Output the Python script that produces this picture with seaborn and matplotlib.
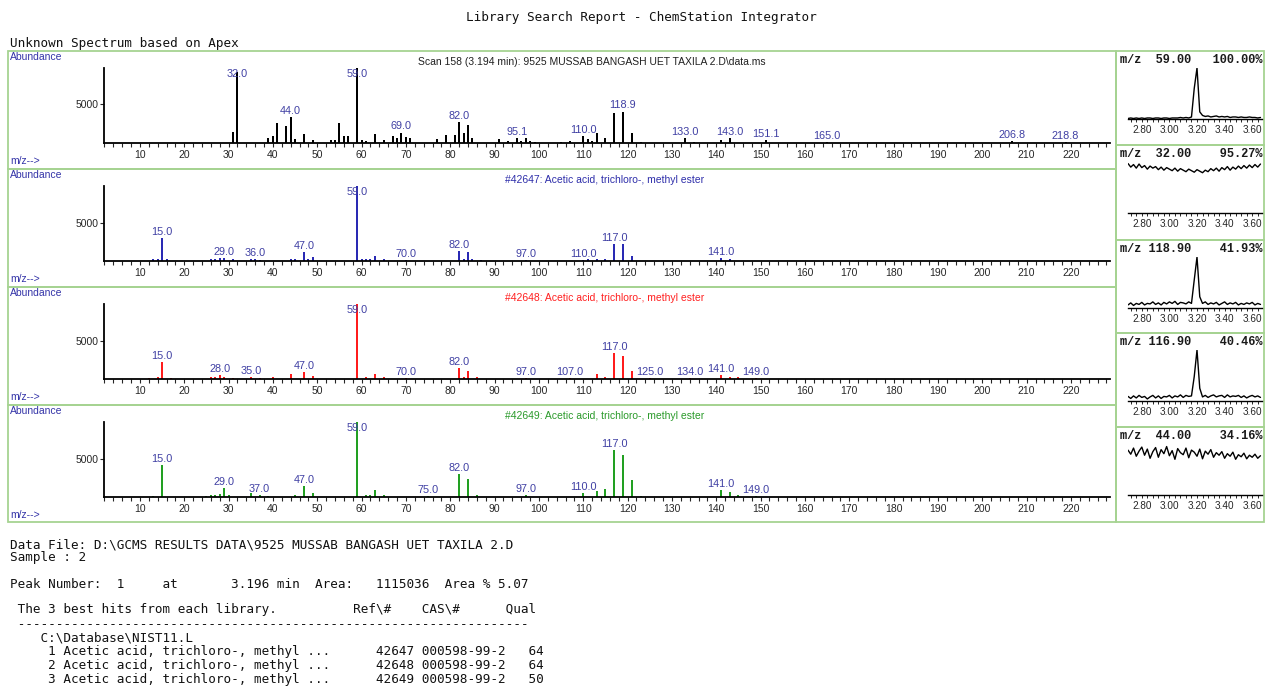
import numpy as np
import pandas as pd
import matplotlib
matplotlib.use("Agg")
import matplotlib.pyplot as plt
from matplotlib.patches import Rectangle
from matplotlib.ticker import MultipleLocator, FixedLocator
import seaborn as sns

# ---------------- data ----------------
scan_mz = [31, 32, 39, 40, 41, 43, 44, 45, 47, 49, 53, 54, 55, 56, 57, 59, 60, 61, 63, 65,
           67, 68, 69, 70, 71, 77, 79, 81, 82, 83, 84, 85, 91, 93, 95.1, 96, 97, 98, 99, 105,
           107, 110, 111, 112, 113, 115, 116.9, 118.9, 121, 123, 133, 135, 141, 143, 151.1, 165,
           206.8, 218.8]
scan_ab = [1440, 9146, 670, 860, 2590, 2210, 3280, 480, 1150, 380, 380, 380, 2500, 960, 960, 9600,
           380, 290, 1150, 380, 960, 670, 1340, 770, 580, 480, 1060, 1060, 2690, 1340, 2300, 670,
           480, 290, 670, 290, 580, 290, 190, 190, 290, 860, 480, 290, 1340, 670, 3884, 4025, 1340,
           190, 580, 190, 380, 580, 380, 100, 290, 100]
scan_labels = [32, 44, 59, 69, 82, 95.1, 110, 118.9, 133, 143, 151.1, 165, 206.8, 218.8]

hit1_mz = [13, 14, 15, 16, 26, 27, 28, 29, 31, 35, 36, 37, 44, 45, 47, 48, 49, 59, 60, 61,
           62, 63, 65, 70, 82, 83, 84, 85, 87, 97, 110, 111, 113, 115, 117, 119, 121, 141, 143]
hit1_ab = [200, 300, 3000, 200, 200, 200, 400, 400, 200, 200, 200, 100, 300, 200, 1200, 200, 500,
           9999, 200, 200, 200, 600, 300, 100, 1300, 200, 1200, 200, 100, 100, 100, 200, 300, 200,
           2200, 2200, 600, 400, 300]
hit1_labels = [15, 29, 36, 47, 59, 70, 82, 97, 110, 117, 141]

hit2_mz = [12, 14, 15, 17, 26, 27, 28, 29, 31, 35, 37, 40, 44, 47, 49, 59, 61, 63, 65, 70,
           82, 83, 84, 86, 97, 107, 113, 115, 117, 119, 121, 125, 134, 141, 143, 145, 149]
hit2_ab = [100, 200, 2200, 100, 200, 200, 500, 300, 100, 200, 100, 200, 700, 900, 400, 9999, 200,
           600, 200, 100, 1500, 300, 1000, 200, 100, 100, 600, 200, 3400, 3000, 1100, 100, 100,
           500, 300, 200, 100]
hit2_labels = [15, 28, 35, 47, 59, 70, 82, 97, 107, 117, 125, 134, 141, 149]

hit3_mz = [13, 15, 25, 26, 27, 28, 29, 30, 35, 37, 39, 45, 47, 49, 59, 61, 62, 63, 65, 75,
           82, 84, 86, 97, 110, 113, 115, 117, 119, 121, 123, 141, 143, 145, 149]
hit3_ab = [100, 4200, 100, 200, 300, 400, 1200, 300, 500, 200, 100, 200, 1500, 500, 9999, 200, 200,
           900, 300, 100, 3100, 2400, 300, 200, 500, 800, 1000, 6200, 5600, 2200, 100, 900, 700,
           200, 100]
hit3_labels = [15, 29, 37, 47, 59, 75, 82, 97, 110, 117, 141, 149]

spec_titles = ["Scan 158 (3.194 min): 9525 MUSSAB BANGASH UET TAXILA 2.D\\data.ms",
               "#42647: Acetic acid, trichloro-, methyl ester",
               "#42648: Acetic acid, trichloro-, methyl ester",
               "#42649: Acetic acid, trichloro-, methyl ester"]

eic_time = [2.70, 2.72, 2.74, 2.76, 2.78, 2.80, 2.82, 2.84, 2.86, 2.88, 2.90, 2.92, 2.94, 2.96,
            2.98, 3.00, 3.02, 3.04, 3.06, 3.08, 3.10, 3.12, 3.14, 3.16, 3.18, 3.20, 3.22, 3.24,
            3.26, 3.28, 3.30, 3.32, 3.34, 3.36, 3.38, 3.40, 3.42, 3.44, 3.46, 3.48, 3.50, 3.52,
            3.54, 3.56, 3.58, 3.60, 3.62, 3.64, 3.66]
eic_59 = [1, 2, 1, 2, 1, 2, 1, 2, 2, 1, 2, 2, 1, 2, 2, 1, 2, 2, 2, 3, 2, 3, 2, 4, 60, 100, 14, 7,
          5, 6, 4, 5, 6, 4, 5, 4, 5, 3, 4, 4, 3, 4, 3, 3, 4, 3, 3, 2, 3]
eic_32 = [97, 90, 95, 88, 96, 89, 93, 86, 92, 88, 91, 85, 90, 84, 89, 86, 83, 88, 82, 87, 84, 81,
          86, 83, 80, 85, 82, 79, 84, 81, 87, 83, 88, 82, 89, 85, 91, 84, 90, 86, 92, 87, 93, 88,
          94, 89, 95, 90, 96]
eic_1189 = [6, 10, 5, 9, 7, 11, 6, 9, 8, 12, 7, 10, 6, 11, 8, 12, 9, 13, 7, 11, 10, 8, 12, 9, 55,
            100, 22, 9, 12, 7, 10, 8, 11, 6, 9, 12, 7, 10, 8, 11, 6, 9, 7, 10, 8, 11, 6, 9, 7]
eic_1169 = [9, 5, 10, 6, 11, 7, 9, 4, 8, 11, 6, 10, 5, 9, 8, 11, 6, 10, 8, 12, 7, 11, 9, 10, 48,
            100, 25, 8, 11, 7, 10, 12, 8, 10, 11, 7, 12, 8, 10, 9, 11, 7, 10, 6, 9, 11, 8, 10, 7]
eic_44 = [88, 80, 92, 76, 86, 94, 78, 90, 72, 85, 93, 74, 89, 81, 95, 77, 87, 70, 91, 83, 79, 92,
          73, 88, 84, 76, 90, 71, 86, 80, 89, 74, 83, 78, 85, 72, 81, 76, 84, 70, 79, 75, 82, 71,
          78, 74, 80, 72, 77]
eic_headers = ["m/z  59.00   100.00%", "m/z  32.00    95.27%", "m/z 118.90    41.93%",
               "m/z 116.90    40.46%", "m/z  44.00    34.16%"]
eic_ticks = [2.80, 3.00, 3.20, 3.40, 3.60]

report_lines = [
    "Data File: D:\\GCMS RESULTS DATA\\9525 MUSSAB BANGASH UET TAXILA 2.D",
    "Sample : 2",
    "Peak Number:  1     at       3.196 min  Area:   1115036  Area % 5.07",
    " The 3 best hits from each library.          Ref\\#    CAS\\#      Qual",
    " " + "-" * 67,
    "    C:\\Database\\NIST11.L",
    "     1 Acetic acid, trichloro-, methyl ...      42647 000598-99-2   64",
    "     2 Acetic acid, trichloro-, methyl ...      42648 000598-99-2   64",
    "     3 Acetic acid, trichloro-, methyl ...      42649 000598-99-2   50",
]

# ---------------- style ----------------
sns.set_style("white")
plt.rcParams['font.family'] = ['Liberation Sans', 'DejaVu Sans']

W, H = 1266, 686
fig = plt.figure(figsize=(W / 100, H / 100), dpi=100)
fig.patch.set_facecolor("white")

GREEN_BOX = "#a6d392"
LABEL_BLUE = "#3f3fa3"
HEAD_BLUE = "#3434a8"
MONO = "DejaVu Sans Mono"

AX_X0, AX_X1 = 104, 1110
XLIM = (1.9, 228.8)
BAR_PX = 2.0
bar_units = BAR_PX / ((AX_X1 - AX_X0) / (XLIM[1] - XLIM[0]))


def fx(px):
    return px / W


def fy(py):
    return 1 - py / H


def add_ax(x0, y0, x1, y1):
    return fig.add_axes([x0 / W, 1 - y1 / H, (x1 - x0) / W, (y1 - y0) / H])


def box(x0, y0, x1, y1):
    fig.add_artist(Rectangle((fx(x0), fy(y1)), (x1 - x0) / W, (y1 - y0) / H,
                             transform=fig.transFigure, fill=False,
                             edgecolor=GREEN_BOX, lw=1.3, zorder=0))


# header texts
fig.text(fx(641), fy(17), "Library Search Report - ChemStation Integrator",
         family=MONO, fontsize=9.1, ha="center", va="center", color="#111111")
fig.text(fx(10), fy(44), "Unknown Spectrum based on Apex",
         family=MONO, fontsize=9.1, ha="left", va="center", color="#111111")

# boxes
left_tops = [51, 169, 287, 405]
left_bots = [169, 287, 405, 522]
right_tops = [51, 145, 240, 333, 427]
right_bots = [145, 240, 333, 427, 522]
for t, b in zip(left_tops, left_bots):
    box(8, t, 1116, b)
for t, b in zip(right_tops, right_bots):
    box(1116, t, 1264, b)

specs = [
    (scan_mz, scan_ab, scan_labels, "#000000", "#202020", 592),
    (hit1_mz, hit1_ab, hit1_labels, "#2a2ab4", "#2e2eaa", 605),
    (hit2_mz, hit2_ab, hit2_labels, "#ff1c1c", "#ff2020", 605),
    (hit3_mz, hit3_ab, hit3_labels, "#22a022", "#2a9a2a", 605),
]

for i, (mz, ab, labs, bcol, tcol, tx) in enumerate(specs):
    y0 = left_tops[i]
    ax = add_ax(AX_X0, y0 + 17, AX_X1, y0 + 92)
    ax.set_facecolor("none")
    df = pd.DataFrame({"mz": mz, "ab": ab})
    nw = float(np.diff(np.unique(df["mz"])).min())
    sns.barplot(data=df, x="mz", y="ab", native_scale=True, orient="x",
                width=bar_units / nw, color=bcol, saturation=1, errorbar=None,
                linewidth=0, ax=ax)
    ymax = max(ab)
    ax.set_xlim(*XLIM)
    ax.set_ylim(0, ymax)
    ax.set_xlabel("")
    ax.set_ylabel("")
    for s in ["top", "right"]:
        ax.spines[s].set_visible(False)
    for s in ["left", "bottom"]:
        ax.spines[s].set_color("black")
        ax.spines[s].set_linewidth(1.3)
    ax.set_yticks([5000])
    ax.set_yticklabels(["5000"])
    ax.tick_params(axis="y", length=3, width=0.8, pad=1, labelsize=7.5, left=True)
    ax.xaxis.set_major_locator(MultipleLocator(10))
    ax.xaxis.set_minor_locator(MultipleLocator(2))
    ax.tick_params(axis="x", which="both", direction="out", length=3, width=0.8,
                   bottom=True, labelsize=7.5, pad=2)
    for m in labs:
        h = ab[mz.index(m)]
        yy = min(h + 0.015 * ymax, 0.85 * ymax)
        ax.text(m, yy, f"{m:.1f}", ha="center", va="bottom", fontsize=7.8,
                color=LABEL_BLUE, clip_on=False)
    fig.text(fx(10), fy(y0 + 6), "Abundance", fontsize=7.5, color=HEAD_BLUE,
             ha="left", va="center")
    fig.text(fx(10), fy(y0 + 110), "m/z-->", fontsize=7.5, color=HEAD_BLUE,
             ha="left", va="center")
    fig.text(fx(tx), fy(y0 + 11), spec_titles[i], fontsize=7.5, color=tcol,
             ha="center", va="center")

eics = [eic_59, eic_32, eic_1189, eic_1169, eic_44]
for j, vals in enumerate(eics):
    y0 = right_tops[j]
    ax = add_ax(1128, y0 + 17, 1262, y0 + 68)
    ax.set_facecolor("none")
    sns.lineplot(x=eic_time, y=vals, color="black", lw=1.0, ax=ax)
    ax.set_xlim(2.70, 3.671)
    ax.set_ylim(0, 100)
    for s in ["top", "right", "left"]:
        ax.spines[s].set_visible(False)
    ax.spines["bottom"].set_color("black")
    ax.spines["bottom"].set_linewidth(1.0)
    ax.set_yticks([])
    ax.xaxis.set_major_locator(FixedLocator(eic_ticks))
    ax.set_xticklabels([f"{t:.2f}" for t in eic_ticks])
    ax.xaxis.set_minor_locator(MultipleLocator(0.04))
    ax.tick_params(axis="x", which="both", direction="out", length=2.5, width=0.7,
                   bottom=True, labelsize=7.2, pad=1.5)
    ax.set_xlabel("")
    ax.set_ylabel("")
    fig.text(fx(1120), fy(y0 + 9), eic_headers[j], family="Liberation Mono",
             weight="bold", fontsize=8.6, color="#1a1a1a", ha="left", va="center")

line_y = [545, 558, 584, 610, 624, 638, 651, 665, 679]
for ly, txt in zip(line_y, report_lines):
    fig.text(fx(10), fy(ly), txt, family=MONO, fontsize=9.1, color="#111111",
             ha="left", va="center")

fig.savefig("out.png", dpi=100, facecolor="white")
